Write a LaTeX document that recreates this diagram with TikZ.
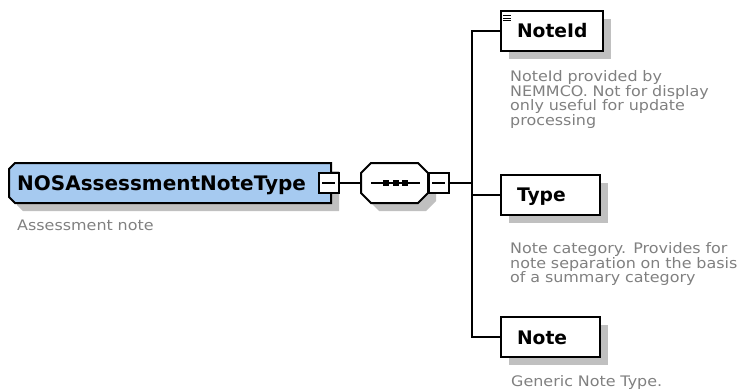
\documentclass[tikz,border=0pt]{standalone}
\usepackage{fontspec}
\setmainfont{DejaVu Sans}
\newfontfamily\descfont[FakeStretch=1.1]{DejaVu Sans}
\usetikzlibrary{shadows}
\definecolor{typeblue}{RGB}{166,202,240}
\definecolor{shadowgray}{RGB}{192,192,192}
\definecolor{descgray}{RGB}{128,128,128}
\tikzset{
    wire/.style={line width=2pt},
    boxshadow/.style={drop shadow={shadow xshift=8pt, shadow yshift=-8pt, fill=shadowgray, opacity=1}},
    element/.style={draw, line width=2pt, fill=white, boxshadow, text width=67pt, inner xsep=16pt, inner ysep=0pt,
        minimum height=40pt, align=left, font=\bfseries\fontsize{18.7}{22}\selectfont, text height=13.6pt, text depth=0pt},
    desc/.style={font=\descfont\fontsize{14.5}{14.7}\selectfont, text=descgray, text width=240pt, align=left,
        anchor=base west, inner sep=0pt},
    collapse/.style={draw, fill=white, line width=2pt, minimum size=20pt, inner sep=0pt},
}

\begin{document}
\begin{tikzpicture}[x=1pt, y=-1pt]
    \useasboundingbox (0,0) rectangle (743,391);
    % complex type
    \draw[line width=2pt, fill=typeblue, boxshadow] (15,163) -- (331,163) -- (331,203) -- (15,203) -- (9,197) -- (9,169) -- cycle;
    \node[anchor=west, inner sep=0pt, font=\bfseries\fontsize{20}{24}\selectfont, text height=14.6pt, text depth=0pt] (nos) at (17,183.3) {NOSAssessmentNoteType};
    \node[desc] (nosdesc) at (17,230) {Assessment note};
    \node[collapse] (nosminus) at (328.8,183.3) {\rule[-1pt]{13pt}{2pt}};
    % sequence
    \draw[line width=2pt, fill=white, boxshadow] (371,163) -- (418,163) -- (428,173) -- (428,193) -- (418,203) -- (371,203) -- (361,193) -- (361,173) -- cycle;
    \node[minimum width=67pt, minimum height=40pt, inner sep=0pt] (seq) at (394.5,183.3) {};
    \draw[wire] (371,183.3) -- (420,183.3);
    \foreach \x in {386,395.5,405}
        \fill (\x-3,180.3) rectangle (\x+3,186.3);
    \node[collapse] (seqminus) at (438.8,183.3) {\rule[-1pt]{13pt}{2pt}};
    \coordinate (bus) at (471.5,183.3);
    % child elements
    \node[element, text width=70pt] (noteid) at (552,31) {NoteId};
    \foreach \dy in {5.5,8,10.5}
        \draw[line width=1pt] ([xshift=3pt,yshift=-\dy pt]noteid.north west) -- ++(8,0);
    \node[element] (type) at (550.5,194.5) {Type};
    \node[element] (note) at (550.5,337.3) {Note};
    \node[desc] (noteiddesc) at (510,81.5) {NoteId provided by\\NEMMCO. Not for display\\only useful for update\\processing};
    \node[desc] (typedesc) at (510,253.3) {Note category. Provides for\\note separation on the basis\\of a summary category};
    \node[desc] (notedesc) at (511,386) {Generic Note Type.};
    % connectors
    \draw[wire] (nosminus.east) -- (seq.west);
    \draw[wire] (seqminus.east) -- (bus);
    \draw[wire] (noteid.west) -| (bus) |- (note.west);
    \draw[wire] (type.west) -- (type.west -| bus);
\end{tikzpicture}
\end{document}
